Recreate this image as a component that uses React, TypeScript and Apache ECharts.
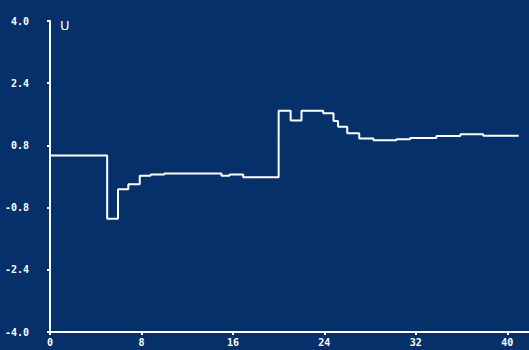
import React, { useEffect, useRef } from "react";
import * as echarts from "echarts";

// Step response: each point holds its value until the next point's x.
const stepX: number[] = [0, 5, 5.95, 6.85, 7.85, 8.8, 10, 15, 15.7, 16.9, 20, 21.05, 22, 23.9, 24.8, 25.2, 26, 27.05, 28.3, 30.3, 31.5, 33.8, 35.9, 37.9, 41];
const stepU: number[] = [0.54, -1.09, -0.33, -0.2, 0.02, 0.05, 0.08, 0.02, 0.05, -0.02, 1.69, 1.44, 1.69, 1.63, 1.43, 1.28, 1.11, 0.98, 0.93, 0.96, 0.99, 1.04, 1.09, 1.05, 1.05];

const xTicks: number[] = [0, 8, 16, 24, 32, 40];
const yTicks: number[] = [4.0, 2.4, 0.8, -0.8, -2.4, -4.0];

const BG = "#05306a";
const FG = "#ffffff";

export default function App() {
  const ref = useRef<HTMLDivElement>(null);

  useEffect(() => {
    if (!ref.current) return;
    const chart = echarts.init(ref.current, undefined, { renderer: "svg" });
    const labelStyle = {
      color: FG,
      fontFamily: "DejaVu Sans Mono",
      fontWeight: "bold" as const,
      fontSize: 10,
    };
    chart.setOption({
      animation: false,
      backgroundColor: BG,
      grid: { left: 50, top: 21, right: 0, bottom: 18, containLabel: false },
      xAxis: {
        type: "value",
        min: 0,
        max: 41.9,
        interval: 8,
        splitLine: { show: false },
        axisLine: { show: true, onZero: false, lineStyle: { color: FG, width: 2 } },
        axisTick: { show: true, length: 3, lineStyle: { color: FG, width: 2 } },
        axisLabel: {
          ...labelStyle,
          margin: 5,
          showMaxLabel: false,
          formatter: (v: number) => (xTicks.includes(v) ? String(v) : ""),
        },
      },
      yAxis: {
        type: "value",
        min: -4,
        max: 4,
        interval: 1.6,
        splitLine: { show: false },
        axisLine: { show: true, onZero: false, lineStyle: { color: FG, width: 2 } },
        axisTick: { show: true, length: 3, lineStyle: { color: FG, width: 2 } },
        axisLabel: {
          ...labelStyle,
          margin: 21,
          formatter: (v: number) => {
            const t = yTicks.find((k) => Math.abs(k - v) < 1e-6);
            return t === undefined ? "" : t.toFixed(1);
          },
        },
      },
      graphic: [
        {
          type: "text",
          left: 60,
          top: 19,
          style: {
            text: "U",
            fill: FG,
            font: "13px 'DejaVu Sans'",
          },
        },
      ],
      series: [
        {
          type: "line",
          step: "end",
          showSymbol: false,
          data: stepX.map((x, i) => [x, stepU[i]]),
          lineStyle: { color: FG, width: 2 },
        },
      ],
    });
    return () => chart.dispose();
  }, []);

  return (
    <div
      ref={ref}
      style={{ position: "absolute", left: 0, top: 0, width: 529, height: 350, background: BG }}
    />
  );
}
